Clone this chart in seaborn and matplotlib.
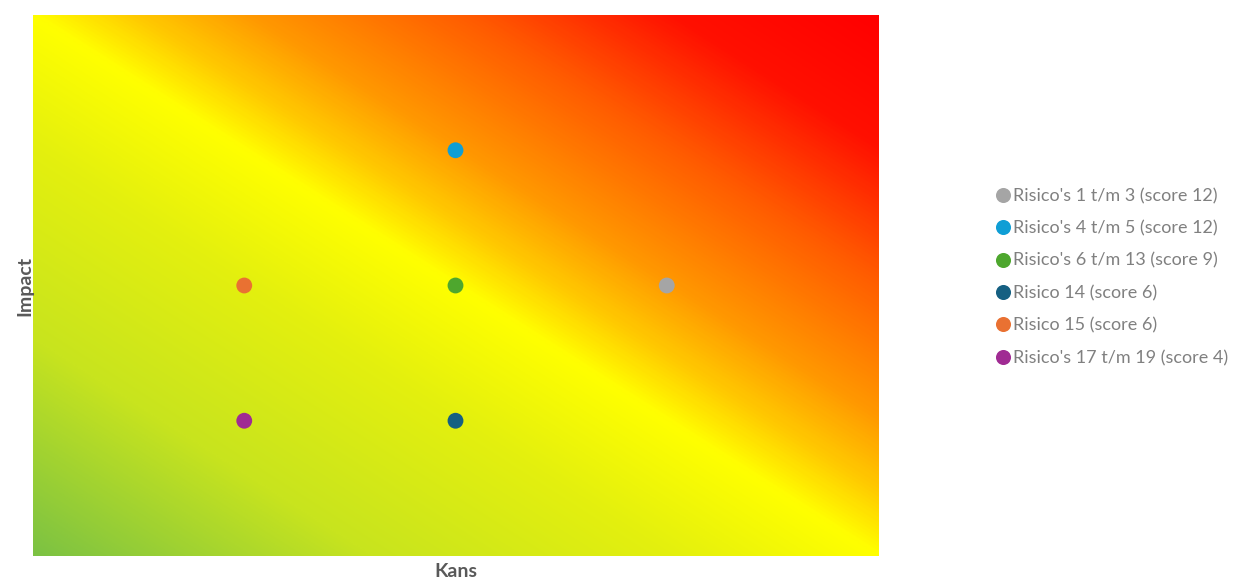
import numpy as np
import pandas as pd
import seaborn as sns
import matplotlib.pyplot as plt
from matplotlib.colors import LinearSegmentedColormap

# risk groups: kans (x) and impact (y)
labels = ["Risico's 1 t/m 3 (score 12)", "Risico's 4 t/m 5 (score 12)",
          "Risico's 6 t/m 13 (score 9)", "Risico 14 (score 6)",
          "Risico 15 (score 6)", "Risico's 17 t/m 19 (score 4)"]
kans = [3, 2, 2, 2, 1, 1]
impact = [2, 3, 2, 1, 2, 1]
colors = ["#A5A5A5", "#0F9ED5", "#4EA72E", "#156082", "#E97132", "#A02B93"]

df = pd.DataFrame({"Kans": kans, "Impact": impact, "risico": labels})

sns.set_theme(style="white")
plt.rcParams['font.family'] = ['Lato', 'DejaVu Sans']

fig = plt.figure(figsize=(12.44, 5.84), dpi=100)
ax = fig.add_axes([33 / 1244, 28 / 584, 845 / 1244, 541 / 584])

# diagonal background gradient green -> yellow -> red
cmap = LinearSegmentedColormap.from_list(
    "risk", [(0, "#7cc243"), (0.2, "#c8e41e"), (0.38, "#e4f00e"),
             (0.5, "#ffff00"), (0.56, "#ffca00"), (0.63, "#ff9800"),
             (0.76, "#ff5a00"), (0.88, "#ff1000"), (1, "#ff0000")])
u = np.linspace(0, 1, 400)
uu, vv = np.meshgrid(u, u)
ax.imshow((uu + vv) / 2, cmap=cmap, origin="lower", extent=[0, 4, 0, 4],
          aspect="auto", vmin=0, vmax=1, interpolation="bilinear")

sns.scatterplot(data=df, x="Kans", y="Impact", hue="risico", palette=colors,
                s=130, edgecolor="none", ax=ax, zorder=3)

ax.set_xlim(0, 4)
ax.set_ylim(0, 4)
ax.set_xticks([])
ax.set_yticks([])
for sp in ax.spines.values():
    sp.set_visible(False)
ax.set_xlabel("Kans", fontsize=14, fontweight="bold", color="#595959", labelpad=5)
ax.set_ylabel("Impact", fontsize=14, fontweight="bold", color="#595959", labelpad=0)

leg = ax.legend(loc="center left", bbox_to_anchor=(998 / 1244, 1 - 277 / 584),
                bbox_transform=fig.transFigure, frameon=False, fontsize=13,
                handlelength=0.6, handletextpad=0.25, labelspacing=0.9,
                markerscale=0.95, borderaxespad=0, borderpad=0)
for t in leg.get_texts():
    t.set_color("#808080")

fig.savefig("out.png", dpi=100)
